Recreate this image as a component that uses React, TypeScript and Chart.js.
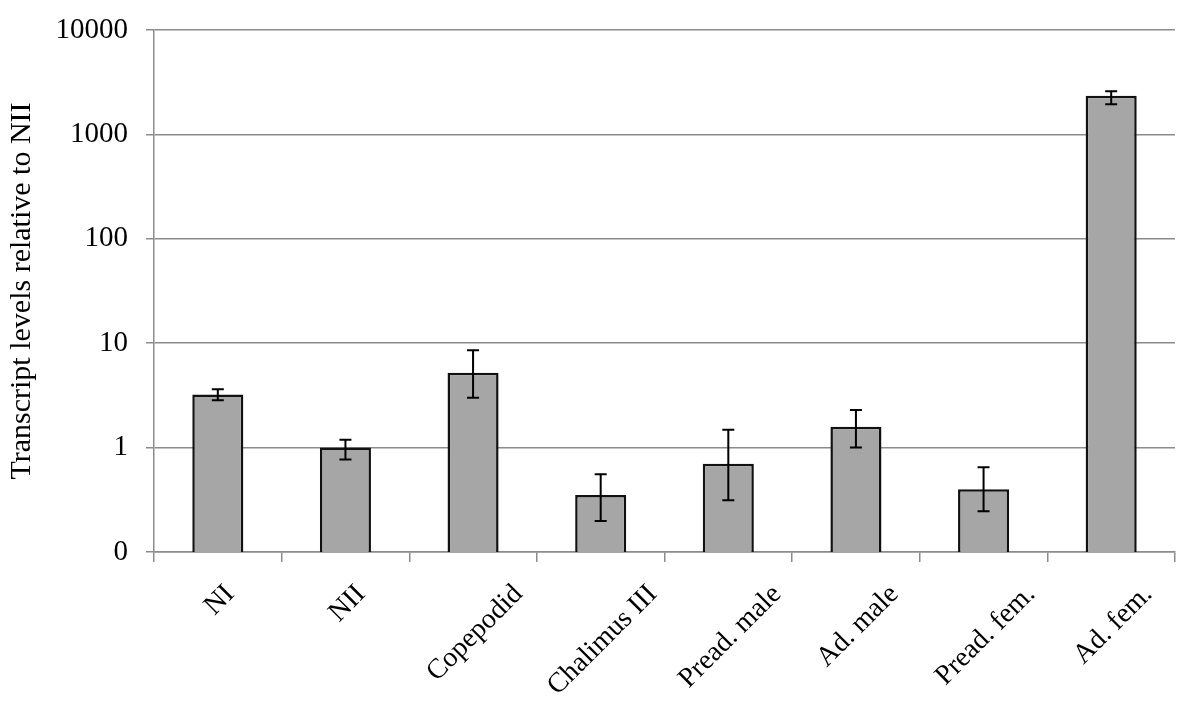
import React, { useEffect, useRef } from "react";
import { Chart, registerables } from "chart.js";

Chart.register(...registerables);

const categories = [
  "NI",
  "NII",
  "Copepodid",
  "Chalimus III",
  "Pread. male",
  "Ad. male",
  "Pread. fem.",
  "Ad. fem.",
];
const values = [3.22, 1.0, 5.2, 0.352, 0.7, 1.58, 0.4, 2340];
const errUpper = [3.63, 1.19, 8.56, 0.557, 1.48, 2.29, 0.65, 2590];
const errLower = [2.84, 0.77, 3.01, 0.198, 0.313, 1.0, 0.245, 1940];
const yTickValues = [0.1, 1, 10, 100, 1000, 10000];
const yTickLabels = ["0", "1", "10", "100", "1000", "10000"];
const yTitle = "Transcript levels relative to NII";

const FONT = '"Liberation Serif", "Times New Roman", serif';
const GRID = "#8c8c8c";

const errorBarPlugin = {
  id: "errorBars",
  afterDatasetsDraw(chart: any) {
    const ctx = chart.ctx;
    const ys = chart.scales.y;
    const meta = chart.getDatasetMeta(0);
    ctx.save();
    ctx.strokeStyle = "#000";
    ctx.lineWidth = 2;
    meta.data.forEach((bar: any, i: number) => {
      const x = bar.x;
      const yt = ys.getPixelForValue(errUpper[i]);
      const yb = ys.getPixelForValue(errLower[i]);
      const cap = 6;
      ctx.beginPath();
      ctx.moveTo(x, yt);
      ctx.lineTo(x, yb);
      ctx.moveTo(x - cap, yt);
      ctx.lineTo(x + cap, yt);
      ctx.moveTo(x - cap, yb);
      ctx.lineTo(x + cap, yb);
      ctx.stroke();
    });
    ctx.restore();
  },
};

const xLabelPlugin = {
  id: "xLabels",
  afterDraw(chart: any) {
    const ctx = chart.ctx;
    const xs = chart.scales.x;
    ctx.save();
    ctx.font = `28px ${FONT}`;
    ctx.fillStyle = "#000";
    ctx.textAlign = "right";
    ctx.textBaseline = "middle";
    const yAnchor = chart.chartArea.bottom + 38;
    categories.forEach((lab, i) => {
      const cx = xs.getPixelForValue(i);
      const w = ctx.measureText(lab).width;
      const ax = cx + (Math.SQRT1_2 * w) / 2 + 2;
      ctx.save();
      ctx.translate(ax, yAnchor);
      ctx.rotate(-Math.PI / 4);
      ctx.fillText(lab, 0, 0);
      ctx.restore();
    });
    ctx.restore();
  },
};

export default function App() {
  const canvasRef = useRef<HTMLCanvasElement | null>(null);

  useEffect(() => {
    if (!canvasRef.current) return;
    const chart = new Chart(canvasRef.current, {
      type: "bar",
      data: {
        labels: categories,
        datasets: [
          {
            data: values,
            backgroundColor: "#a6a6a6",
            borderColor: "#111",
            borderWidth: 2.5,
            categoryPercentage: 1,
            barPercentage: 0.4,
          },
        ],
      },
      options: {
        responsive: false,
        devicePixelRatio: 1,
        animation: false,
        layout: { padding: { top: 30, right: 25, left: 0, bottom: 0 } },
        plugins: {
          legend: { display: false },
          tooltip: { enabled: false },
        },
        scales: {
          x: {
            type: "category",
            offset: true,
            grid: {
              display: true,
              drawOnChartArea: false,
              drawTicks: true,
              tickLength: 10,
              offset: true,
              color: GRID,
              lineWidth: 1.5,
            },
            border: { display: true, color: GRID, width: 1.5 },
            ticks: { display: false },
            afterFit(scale: any) {
              scale.height = 166;
              scale.paddingLeft = 0;
              scale.paddingRight = 0;
            },
          },
          y: {
            type: "logarithmic",
            min: 0.1,
            max: 10000,
            grid: {
              color: GRID,
              lineWidth: 1.5,
              drawTicks: true,
              tickLength: 8,
            },
            border: { display: true, color: GRID, width: 1.5 },
            afterBuildTicks(scale: any) {
              scale.ticks = yTickValues.map((v) => ({ value: v }));
            },
            ticks: {
              font: { family: FONT, size: 29 },
              color: "#000",
              padding: 18,
              callback: (value: any) => {
                const idx = yTickValues.findIndex(
                  (v) => Math.abs(v - Number(value)) < v * 1e-6
                );
                return idx >= 0 ? yTickLabels[idx] : "";
              },
            },
            title: {
              display: true,
              text: yTitle,
              font: { family: FONT, size: 30 },
              color: "#000",
              padding: { top: 4, bottom: 0 },
            },
            afterFit(scale: any) {
              scale.width = 154;
              scale.paddingTop = 0;
              scale.paddingBottom = 0;
            },
          },
        },
      },
      plugins: [errorBarPlugin, xLabelPlugin],
    } as any);
    return () => chart.destroy();
  }, []);

  return (
    <div
      style={{
        position: "fixed",
        left: 0,
        top: 0,
        width: 1200,
        height: 718,
        background: "#fff",
      }}
    >
      <canvas ref={canvasRef} width={1200} height={718} />
    </div>
  );
}
